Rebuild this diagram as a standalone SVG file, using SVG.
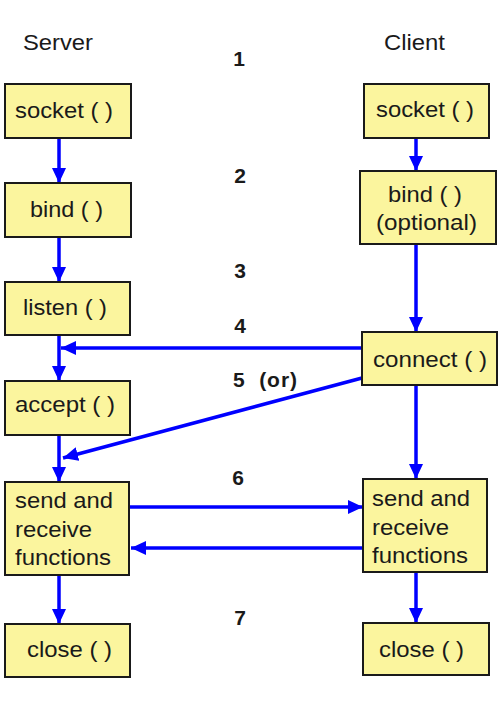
<svg xmlns="http://www.w3.org/2000/svg" width="499" height="712" viewBox="0 0 499 712">
<style>
.box{fill:#FBF59E;stroke:#1a1a1a;stroke-width:2}
.t{font-family:"Liberation Sans",Arial,sans-serif;font-size:22px;fill:#1a1a1a}
.n{font-family:"Liberation Sans",Arial,sans-serif;font-size:21px;font-weight:bold;fill:#1a1a1a}
.c{stroke:#0000FF;stroke-width:3.5;fill:none;marker-end:url(#ah)}
</style>
<defs>
<marker id="ah" markerUnits="userSpaceOnUse" markerWidth="16" markerHeight="14" refX="15" refY="7" orient="auto">
<path d="M0,0 L15,7 L0,14 Z" fill="#0000FF"/>
</marker>
</defs>
<rect width="499" height="712" fill="#fff"/>
<g id="headers">
<text class="t" x="23" y="50" textLength="70" lengthAdjust="spacingAndGlyphs">Server</text>
<text class="t" x="384" y="50" textLength="61" lengthAdjust="spacingAndGlyphs">Client</text>
</g>
<g id="numbers">
<text class="n" x="239" y="66" text-anchor="middle">1</text>
<text class="n" x="240" y="183" text-anchor="middle">2</text>
<text class="n" x="240" y="278" text-anchor="middle">3</text>
<text class="n" x="240" y="333" text-anchor="middle">4</text>
<text class="n" x="233" y="387" xml:space="preserve" textLength="64" lengthAdjust="spacing">5  (or)</text>
<text class="n" x="238" y="485" text-anchor="middle">6</text>
<text class="n" x="240" y="625" text-anchor="middle">7</text>
</g>
<g id="connectors">
<line class="c" x1="59" y1="138" x2="59" y2="183"/>
<line class="c" x1="59" y1="237" x2="59" y2="282"/>
<line class="c" x1="59" y1="335" x2="59" y2="381"/>
<line class="c" x1="59" y1="435" x2="59" y2="482"/>
<line class="c" x1="59" y1="575" x2="59" y2="624"/>
<line class="c" x1="416" y1="139" x2="416" y2="171"/>
<line class="c" x1="416" y1="245" x2="416" y2="332"/>
<line class="c" x1="416" y1="386" x2="416" y2="479"/>
<line class="c" x1="416" y1="573" x2="416" y2="623"/>
<line class="c" x1="362" y1="348" x2="61" y2="348"/>
<line class="c" x1="362" y1="378" x2="63" y2="458"/>
<line class="c" x1="130" y1="507" x2="363" y2="507"/>
<line class="c" x1="363" y1="548" x2="131" y2="548"/>
</g>
<g id="server_socket"><rect class="box" x="5" y="84" width="126" height="54"/><text class="t" x="15" y="118" textLength="98" lengthAdjust="spacingAndGlyphs">socket ( )</text></g>
<g id="server_bind"><rect class="box" x="5" y="183" width="126" height="54"/><text class="t" x="30" y="217" textLength="73" lengthAdjust="spacingAndGlyphs">bind ( )</text></g>
<g id="server_listen"><rect class="box" x="5" y="282" width="125" height="53"/><text class="t" x="23" y="315" textLength="84" lengthAdjust="spacingAndGlyphs">listen ( )</text></g>
<g id="server_accept"><rect class="box" x="5" y="381" width="125" height="54"/><text class="t" x="15" y="412" textLength="100" lengthAdjust="spacingAndGlyphs">accept ( )</text></g>
<g id="server_send"><rect class="box" x="5" y="482" width="124" height="93"/><text class="t" x="15" y="508" textLength="98" lengthAdjust="spacingAndGlyphs">send and</text><text class="t" x="15" y="537" textLength="77" lengthAdjust="spacingAndGlyphs">receive</text><text class="t" x="15" y="565" textLength="96" lengthAdjust="spacingAndGlyphs">functions</text></g>
<g id="server_close"><rect class="box" x="5" y="624" width="125" height="53"/><text class="t" x="27" y="657" textLength="85" lengthAdjust="spacingAndGlyphs">close ( )</text></g>
<g id="client_socket"><rect class="box" x="364" y="84" width="125" height="54"/><text class="t" x="376" y="117" textLength="98" lengthAdjust="spacingAndGlyphs">socket ( )</text></g>
<g id="client_bind"><rect class="box" x="360" y="171" width="136" height="73"/><text class="t" x="388" y="202" textLength="74" lengthAdjust="spacingAndGlyphs">bind ( )</text><text class="t" x="376" y="230" textLength="101" lengthAdjust="spacingAndGlyphs">(optional)</text></g>
<g id="client_connect"><rect class="box" x="362" y="332" width="135" height="53"/><text class="t" x="373" y="367" textLength="114" lengthAdjust="spacingAndGlyphs">connect ( )</text></g>
<g id="client_send"><rect class="box" x="363" y="479" width="124" height="93"/><text class="t" x="372" y="506" textLength="98" lengthAdjust="spacingAndGlyphs">send and</text><text class="t" x="372" y="535" textLength="77" lengthAdjust="spacingAndGlyphs">receive</text><text class="t" x="372" y="563" textLength="96" lengthAdjust="spacingAndGlyphs">functions</text></g>
<g id="client_close"><rect class="box" x="363" y="623" width="126" height="52"/><text class="t" x="379" y="657" textLength="85" lengthAdjust="spacingAndGlyphs">close ( )</text></g>
</svg>
